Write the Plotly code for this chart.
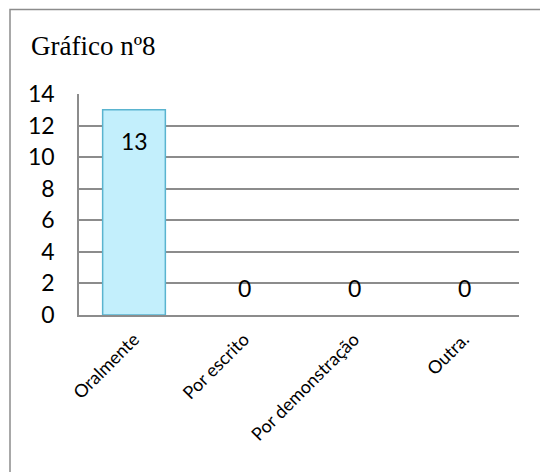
import plotly.graph_objects as go

categories = ["Oralmente", "Por escrito", "Por demonstração", "Outra."]
values = [13, 0, 0, 0]
y_ticks = [0, 2, 4, 6, 8, 10, 12, 14]
title_text = "Gráfico nº8"

W, H = 540, 472
ML, MR, MT, MB = 79, 21, 94, 157
pw, ph = W - ML - MR, H - MT - MB

def px_x(px):
    return (px - ML) / pw

def px_y(py):
    return (H - MB - py) / ph

fig = go.Figure()
fig.add_trace(go.Bar(
    x=categories, y=values,
    width=0.57,
    marker=dict(color="#c3effc",
                line=dict(color="#5ab4cf", width=[1.5 if v > 0 else 0 for v in values])),
    hoverinfo="skip",
))

annotations = []
for c, v in zip(categories, values):
    annotations.append(dict(x=c, y=v, xref="x", yref="y", text=str(v),
                            showarrow=False, yanchor="middle",
                            yshift=-31 if v > 0 else 27,
                            font=dict(family="Lato", size=23, color="#000")))

annotations.append(dict(x=px_x(29), y=px_y(46), xref="paper", yref="paper",
                        text=title_text, showarrow=False, xanchor="left", yanchor="middle",
                        font=dict(family="Liberation Serif", size=27, color="#000")))

fig.update_layout(
    width=W, height=H,
    margin=dict(l=ML, r=MR, t=MT, b=MB, pad=0),
    paper_bgcolor="white", plot_bgcolor="white",
    showlegend=False,
    annotations=annotations,
    shapes=[dict(type="rect", xref="paper", yref="paper",
                 x0=px_x(10), x1=px_x(560), y0=px_y(500), y1=px_y(9.5),
                 line=dict(color="#8c8c8c", width=1.5), fillcolor="rgba(0,0,0,0)",
                 layer="below")],
    bargap=0.43,
)
fig.update_yaxes(range=[0, 14], tickvals=y_ticks, ticktext=[str(t) for t in y_ticks],
                 showgrid=True, gridcolor="#8c8c8c", gridwidth=1.5,
                 showline=True, linecolor="#8c8c8c", linewidth=1.5,
                 zeroline=False, ticks="", ticklabelstandoff=18,
                 tickfont=dict(family="Lato", size=23, color="#000"))
fig.update_xaxes(showline=True, linecolor="#8c8c8c", linewidth=1.5, mirror=False,
                 ticks="", tickangle=-45, ticklabelstandoff=5,
                 tickfont=dict(family="Lato", size=18, color="#000"))

fig.write_html("out.html")
